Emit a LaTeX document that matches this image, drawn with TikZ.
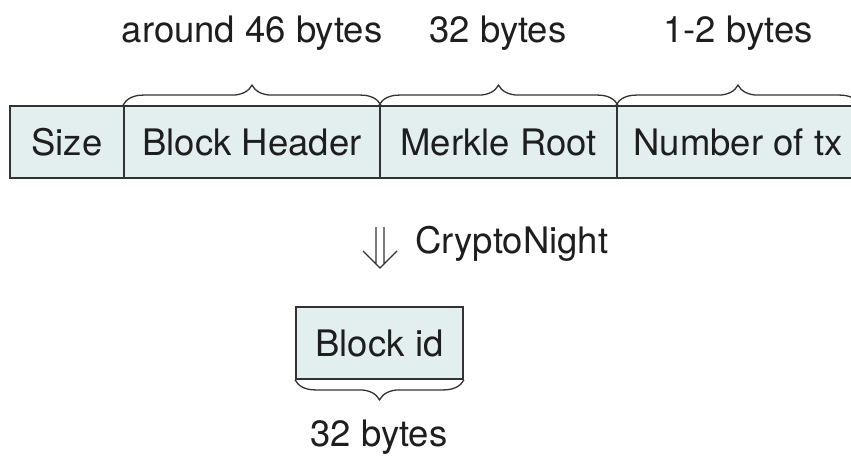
\documentclass[tikz,border=0pt]{standalone}
\usepackage{fontspec}
\setmainfont{TeX Gyre Heros}
\usetikzlibrary{decorations.pathreplacing}
\definecolor{cellfill}{HTML}{E3EFEF}
\definecolor{edge}{HTML}{333333}
\definecolor{ink}{HTML}{1E1E1E}
\tikzset{
  cell/.style={draw=edge, fill=cellfill, line width=1.8pt, minimum height=72pt,
    inner sep=0pt, text=ink, font=\fontsize{36.5}{42}\selectfont},
  lbl/.style={text=ink, inner sep=0pt, font=\fontsize{36.5}{42}\selectfont},
  bracedeco/.style={draw=edge, line width=1.3pt,
    decorate, decoration={brace, amplitude=20pt}}
}
\begin{document}
\begin{tikzpicture}[x=1pt, y=-1pt]
\useasboundingbox (0,0) rectangle (851,457);
\clip (0,0) rectangle (851,457);
% byte layout of the hashing blob
\node[cell, minimum width=114pt] (size) at (67,142) {Size};
\node[cell, minimum width=256pt] (hdr) at (252,142) {Block Header};
\node[cell, minimum width=237pt] (root) at (498.5,142) {Merkle Root};
\node[cell, minimum width=242pt] (ntx) at (738,142) {Number of tx};
% sizes above the fields
\draw[bracedeco] (hdr.north west) -- (hdr.north east);
\draw[bracedeco] (root.north west) -- (root.north east);
\draw[bracedeco] (ntx.north west) -- (ntx.north east);
\node[lbl] (l1) at (252,33) {around 46 bytes};
\node[lbl] (l2) at (498,33) {32 bytes};
\node[lbl] (l3) at (738,33) {1-2 bytes};
% hashing step
\coordinate (arr) at (380,268);
\draw[edge, line width=1.4pt, line join=miter]
  (376,227) -- (376,264)
  (384,227) -- (384,264)
  (363,251) -- (arr) -- (397,251);
\node[lbl, anchor=west] (hash) at (415,244) {CryptoNight};
% resulting id
\node[cell, minimum width=167pt] (id) at (379.5,343) {Block id};
\draw[bracedeco, decoration={mirror}] (id.south west) -- (id.south east);
\node[lbl] (l4) at (379,437) {32 bytes};
\end{tikzpicture}
\end{document}
